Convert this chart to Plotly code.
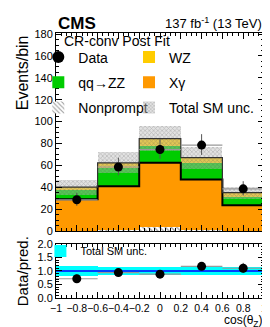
import plotly.graph_objects as go
import numpy as np

# ---- data ----
bin_centers = [-0.8, -0.4, 0.0, 0.4, 0.8]
bin_edges = [-1.0, -0.6, -0.2, 0.2, 0.6, 1.0]
nonprompt = [0.0, 0.8, 4.0, 1.0, 0.0]
xgamma = [29.0, 40.0, 58.4, 46.0, 23.5]
qqzz = [8.0, 16.5, 15.0, 15.0, 7.5]
wz = [3.0, 5.0, 7.0, 5.0, 4.0]
sm_unc = [7.0, 9.5, 11.5, 10.0, 5.5]
data = [28.5, 58.5, 74.5, 78.5, 38.5]
data_err_lo = [5.5, 7.5, 8.5, 9.0, 6.0]
data_err_hi = [6.5, 8.5, 9.5, 10.0, 7.0]

main_yticks = [0, 20, 40, 60, 80, 100, 120, 140, 160, 180]
ratio_yticks = [0.0, 0.5, 1.0, 1.5, 2.0]
x_ticks = [-1, -0.8, -0.6, -0.4, -0.2, 0, 0.2, 0.4, 0.6, 0.8, 1]
x_ticklabels = ["\u22121", "\u22120.8", "\u22120.6", "\u22120.4", "\u22120.2", "0",
                "0.2", "0.4", "0.6", "0.8", "1"]

# ---- derived ----
np_a = np.array(nonprompt)
xg_a = np.array(xgamma)
zz_a = np.array(qqzz)
wz_a = np.array(wz)
total = np_a + xg_a + zz_a + wz_a
unc = np.array(sm_unc)
d = np.array(data)
ratio = d / total
ratio_lo = np.array(data_err_lo) / total
ratio_hi = np.array(data_err_hi) / total
rel_unc = unc / total
W = 0.4

FONT = "Liberation Sans, Arial, sans-serif"
ORANGE = "#ff9900"
GREEN = "#00cc00"
YELLOW = "#ffcc00"

fig = go.Figure()

base = np.zeros(5)
fig.add_trace(go.Bar(x=bin_centers, y=np_a, base=base, width=W, name="Nonprompt",
                     marker=dict(color="white", line=dict(width=0),
                                 pattern=dict(shape="\\", fgcolor="#444444", bgcolor="white", size=4, solidity=0.35)),
                     legend="legend", legendgroup="np", legendrank=3, xaxis="x", yaxis="y"))
base = base + np_a
fig.add_trace(go.Bar(x=bin_centers, y=xg_a, base=base, width=W, name="X\u03b3",
                     marker=dict(color=ORANGE, line=dict(width=0)),
                     legend="legend3", legendgroup="xg", legendrank=2, xaxis="x", yaxis="y"))
base = base + xg_a
orange_top = base.copy()
fig.add_trace(go.Bar(x=bin_centers, y=zz_a, base=base, width=W, name="qq\u2192ZZ",
                     marker=dict(color=GREEN, line=dict(width=0)),
                     legend="legend", legendgroup="zz", legendrank=2, xaxis="x", yaxis="y"))
base = base + zz_a
fig.add_trace(go.Bar(x=bin_centers, y=wz_a, base=base, width=W, name="WZ",
                     marker=dict(color=YELLOW, line=dict(width=0)),
                     legend="legend3", legendgroup="wz", legendrank=1, xaxis="x", yaxis="y"))

fig.add_trace(go.Bar(x=bin_centers, y=2 * unc, base=total - unc, width=W, name="Total SM unc.",
                     marker=dict(color="rgba(130,130,130,0.45)", line=dict(width=0),
                                 pattern=dict(shape="x", fgcolor="rgba(80,80,80,0.6)",
                                              bgcolor="rgba(190,190,190,0.45)", size=3, solidity=0.4)),
                     legend="legend3", legendgroup="unc", legendrank=3, xaxis="x", yaxis="y"))

fig.add_trace(go.Scatter(x=bin_edges, y=list(orange_top) + [orange_top[-1]], mode="lines",
                         line=dict(color="black", width=2, shape="hv"), showlegend=False,
                         hoverinfo="skip", xaxis="x", yaxis="y"))
fig.add_trace(go.Scatter(x=bin_edges, y=list(total) + [total[-1]], mode="lines",
                         line=dict(color="#333333", width=1.2, shape="hv"), showlegend=False,
                         hoverinfo="skip", xaxis="x", yaxis="y"))

fig.add_trace(go.Scatter(x=bin_centers, y=d, mode="markers", name="Data",
                         marker=dict(color="black", size=9),
                         error_y=dict(type="data", symmetric=False, array=data_err_hi,
                                      arrayminus=data_err_lo, color="#555555", thickness=1, width=0),
                         error_x=dict(type="constant", value=0.2, color="#999999", thickness=1.2, width=0),
                         legend="legend", legendgroup="data", legendrank=1, xaxis="x", yaxis="y"))

# ---- ratio panel ----
fig.add_trace(go.Bar(x=bin_centers, y=2 * rel_unc, base=1 - rel_unc, width=W, name="Total SM unc.",
                     marker=dict(color="#00ffff", line=dict(width=0)),
                     legend="legend2", xaxis="x2", yaxis="y2"))
fig.add_trace(go.Scatter(x=[-1, 1], y=[1, 1], mode="lines", line=dict(color="#0000ff", width=1.5),
                         showlegend=False, hoverinfo="skip", xaxis="x2", yaxis="y2"))
fig.add_trace(go.Scatter(x=bin_centers, y=ratio, mode="markers", showlegend=False,
                         marker=dict(color="black", size=9),
                         error_y=dict(type="data", symmetric=False, array=ratio_hi,
                                      arrayminus=ratio_lo, color="#555555", thickness=1, width=0),
                         error_x=dict(type="constant", value=0.2, color="#999999", thickness=1.2, width=0),
                         xaxis="x2", yaxis="y2"))

axis_common = dict(showline=True, linecolor="black", linewidth=1, mirror="allticks",
                   ticks="inside", tickcolor="black", showgrid=False, zeroline=False)

leg_common = dict(xanchor="left", yanchor="top", font=dict(size=14), bgcolor="rgba(0,0,0,0)",
                  traceorder="grouped", tracegroupgap=4, itemwidth=30, itemsizing="constant")

fig.update_layout(
    width=270, height=327,
    margin=dict(l=48, r=11, t=25, b=37),
    paper_bgcolor="white", plot_bgcolor="white",
    barmode="overlay", bargap=0,
    font=dict(family=FONT, color="black", size=11),
    xaxis=dict(domain=[0, 1], range=[-1, 1], anchor="y", tickvals=x_ticks, showticklabels=False,
               ticklen=6, minor=dict(ticks="inside", ticklen=3, dtick=0.05, tickcolor="black"),
               **axis_common),
    yaxis=dict(domain=[0.253, 1], range=[0, 181], anchor="x", tickvals=main_yticks,
               ticklen=6, tickfont=dict(size=11),
               minor=dict(ticks="inside", ticklen=3, dtick=5, tickcolor="black"), **axis_common),
    xaxis2=dict(domain=[0, 1], range=[-1, 1], anchor="y2", tickvals=x_ticks, ticktext=x_ticklabels,
                ticklen=6, tickfont=dict(size=10.5), tickangle=0,
                minor=dict(ticks="inside", ticklen=3, dtick=0.05, tickcolor="black"), **axis_common),
    yaxis2=dict(domain=[0, 0.204], range=[0, 2], anchor="x2", tickvals=ratio_yticks,
                ticktext=["0.0", "0.5", "1.0", "1.5", "2.0"], ticklen=6, tickfont=dict(size=11),
                minor=dict(ticks="inside", ticklen=3, dtick=0.1, tickcolor="black"), **axis_common),
    legend=dict(x=-0.085, y=0.968, **leg_common),
    legend3=dict(x=0.351, y=0.968, **leg_common),
    legend2=dict(x=-0.075, y=0.232, xanchor="left", yanchor="top", font=dict(size=11),
                 bgcolor="rgba(0,0,0,0)", itemwidth=30),
    showlegend=True,
)

fig.add_annotation(text="CR-conv Post Fit", xref="paper", yref="paper", x=0.03, y=(290 - 33) / 265,
                   xanchor="left", yanchor="middle", showarrow=False, font=dict(size=14, family=FONT))
fig.add_annotation(text="<b>CMS</b>", xref="paper", yref="paper", x=0.0, y=1.0, xanchor="left",
                   yanchor="bottom", showarrow=False, font=dict(size=17, family=FONT), yshift=-2)
fig.add_annotation(text="137 fb<sup>-1</sup> (13 TeV)", xref="paper", yref="paper", x=1.0, y=1.0,
                   xanchor="right", yanchor="bottom", showarrow=False, font=dict(size=13, family=FONT))
fig.add_annotation(text="Events/bin", xref="paper", yref="paper", x=-0.16, y=1.0, xanchor="center",
                   yanchor="top", textangle=-90, showarrow=False, font=dict(size=16, family=FONT))
fig.add_annotation(text="Data/pred.", xref="paper", yref="paper", x=-0.16, y=0.1, xanchor="center",
                   yanchor="middle", textangle=-90, showarrow=False, font=dict(size=15, family=FONT))
fig.add_annotation(text="cos(\u03b8<sub>Z</sub>)", xref="paper", yref="paper", x=1.0, y=-0.088,
                   xanchor="right", yanchor="middle", showarrow=False, font=dict(size=12, family=FONT))

fig.write_html("out.html")
